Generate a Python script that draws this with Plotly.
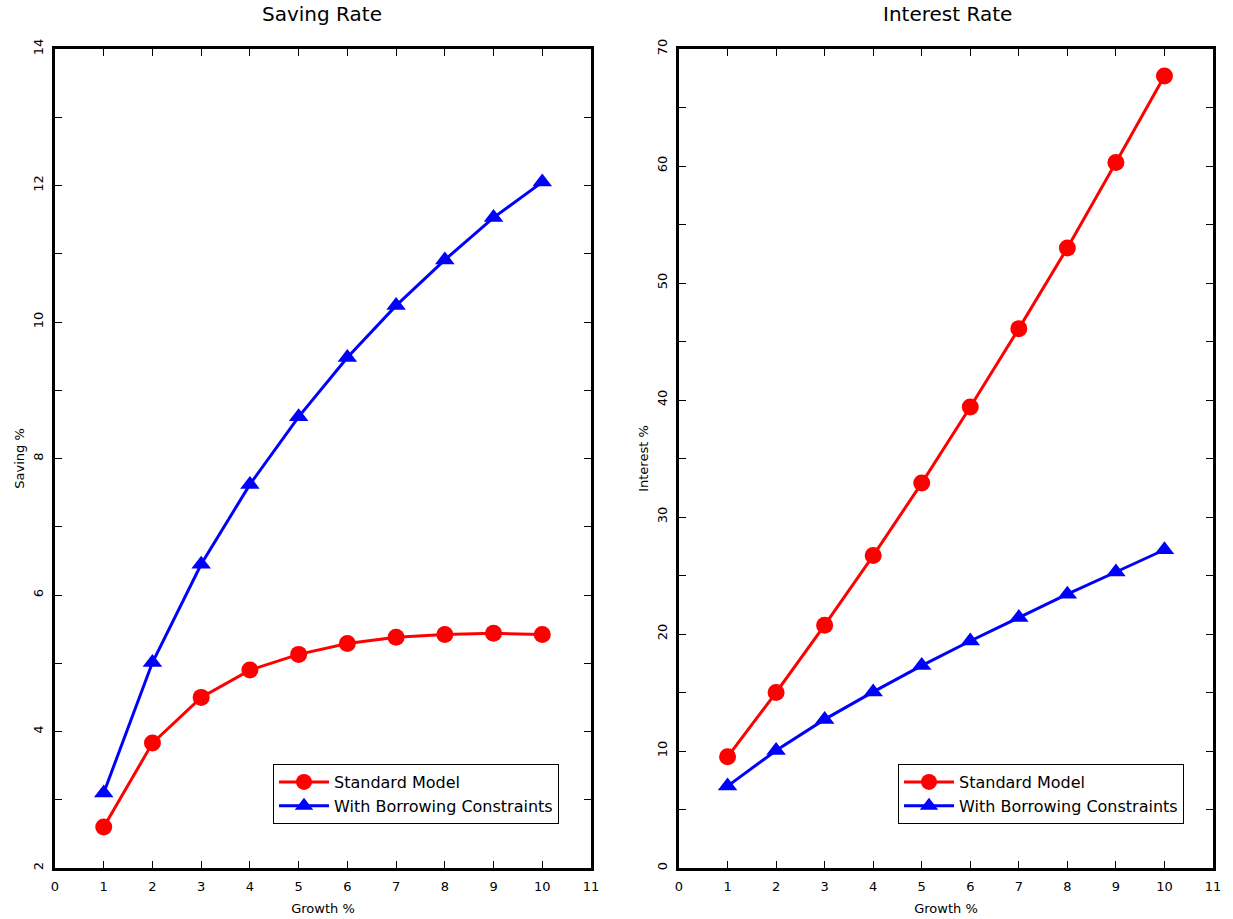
import plotly.graph_objects as go

growth = [1, 2, 3, 4, 5, 6, 7, 8, 9, 10]
saving_standard = [2.60, 3.83, 4.50, 4.90, 5.13, 5.29, 5.38, 5.42, 5.44, 5.42]
saving_borrow = [3.10, 5.01, 6.45, 7.62, 8.61, 9.48, 10.24, 10.91, 11.53, 12.05]
interest_standard = [9.5, 15.0, 20.75, 26.7, 32.9, 39.4, 46.1, 53.0, 60.3, 67.7]
interest_borrow = [7.0, 10.05, 12.7, 15.05, 17.3, 19.4, 21.4, 23.4, 25.3, 27.2]

x_ticks = list(range(0, 12))
left_ticks = list(range(2, 15))
left_text = [str(v) if v % 2 == 0 else "" for v in left_ticks]
right_ticks = list(range(0, 71, 5))
right_text = [str(v) if v % 10 == 0 else "" for v in right_ticks]

RED = "#ff0000"
BLUE = "#0000ff"
FONT = "DejaVu Sans"

fig = go.Figure()

def add(xa, ya, y, name, color, symbol, legend, size):
    fig.add_trace(go.Scatter(
        x=growth, y=y, name=name, mode="lines+markers",
        line=dict(color=color, width=3),
        marker=dict(color=color, symbol=symbol, size=size),
        xaxis=xa, yaxis=ya, legend=legend))

add("x", "y", saving_standard, "Standard Model", RED, "circle", "legend", 17)
add("x", "y", saving_borrow, "With Borrowing Constraints", BLUE, "triangle-up", "legend", 17)
add("x2", "y2", interest_standard, "Standard Model", RED, "circle", "legend2", 17)
add("x2", "y2", interest_borrow, "With Borrowing Constraints", BLUE, "triangle-up", "legend2", 17)

axis_common = dict(showline=True, linecolor="black", linewidth=3, mirror="allticks",
                   ticks="inside", ticklen=7, tickwidth=1, tickcolor="black",
                   showgrid=False, zeroline=False, automargin=False,
                   tickfont=dict(family=FONT, size=13, color="black"))

PL, PR, PT, PB = 55, 1213, 49, 868
W = PR - PL
H = PB - PT

def py(v):
    # reference pixel y -> paper y of the plot area
    return (PB - v) / H

fig.update_layout(
    width=1233, height=919,
    margin=dict(l=PL, r=1233 - PR, t=PT, b=919 - PB, autoexpand=False),
    paper_bgcolor="white", plot_bgcolor="white",
    font=dict(family=FONT, color="black"),
    xaxis=dict(domain=[0, (591 - PL) / W], range=[0, 11], tickvals=x_ticks,
               title=dict(text="Growth %", font=dict(size=13), standoff=12),
               ticklabelstandoff=4, **axis_common),
    yaxis=dict(domain=[0, 1], range=[2, 14], tickvals=left_ticks, ticktext=left_text,
               tickangle=-90, ticklabelstandoff=4,
               title=dict(text="Saving %", font=dict(size=13), standoff=4),
               **axis_common),
    xaxis2=dict(domain=[(679 - PL) / W, 1], range=[0, 11], tickvals=x_ticks, anchor="y2",
                title=dict(text="Growth %", font=dict(size=13), standoff=12),
                ticklabelstandoff=4, **axis_common),
    yaxis2=dict(domain=[0, 1], range=[0, 70], tickvals=right_ticks, ticktext=right_text,
                anchor="x2", tickangle=-90, ticklabelstandoff=4,
                title=dict(text="Interest %", font=dict(size=13), standoff=4),
                **axis_common),
    legend=dict(x=(273 - PL) / W, y=py(764), xanchor="left", yanchor="top",
                bgcolor="white", bordercolor="black", borderwidth=1,
                font=dict(family=FONT, size=16), itemwidth=50, tracegroupgap=0),
    legend2=dict(x=(898 - PL) / W, y=py(764), xanchor="left", yanchor="top",
                 bgcolor="white", bordercolor="black", borderwidth=1,
                 font=dict(family=FONT, size=16), itemwidth=50, tracegroupgap=0),
    annotations=[
        dict(text="Saving Rate", x=(322 - PL) / W, y=py(14), xref="paper", yref="paper",
             showarrow=False, font=dict(size=20, family=FONT), xanchor="center", yanchor="middle"),
        dict(text="Interest Rate", x=(947 - PL) / W, y=py(14), xref="paper", yref="paper",
             showarrow=False, font=dict(size=20, family=FONT), xanchor="center", yanchor="middle"),
    ],
)

fig.write_html("out.html")
